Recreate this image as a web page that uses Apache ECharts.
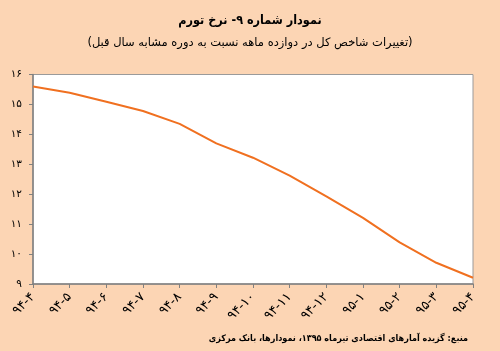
<!DOCTYPE html>
<html>
<head>
<meta charset="utf-8">
<script src="https://cdn.jsdelivr.net/npm/echarts@6/dist/echarts.min.js"></script>
<style>
  html, body { margin: 0; padding: 0; background: #FCD5B4; }
  #chart { width: 500px; height: 351px; }
</style>
</head>
<body>
<div id="chart"></div>
<script>
// دوره‌ها (ماه-سال)
const categories = ['۹۴-۴', '۹۴-۵', '۹۴-۶', '۹۴-۷', '۹۴-۸', '۹۴-۹', '۹۴-۱۰', '۹۴-۱۱', '۹۴-۱۲', '۹۵-۱', '۹۵-۲', '۹۵-۳', '۹۵-۴'];
// نرخ تورم (درصد)
const inflation = [15.6, 15.39, 15.09, 14.78, 14.35, 13.7, 13.22, 12.62, 11.93, 11.21, 10.39, 9.71, 9.21];
const yTicks = { min: 9, max: 16, interval: 1 };

// اعداد فارسی برای برچسب محور
const faDigits = (n) => String(n).replace(/\d/g, (d) => '۰۱۲۳۴۵۶۷۸۹'[d]);

const myChart = echarts.init(document.getElementById('chart'));

const options = {
    backgroundColor: '#FCD5B4',
    title: [
        {
            text: 'نمودار شماره ۹- نرخ تورم',
            left: 'center',
            top: 9,
            textStyle: { fontSize: 12.5, fontWeight: 'bold', color: '#000', fontFamily: 'DejaVu Sans Condensed' }
        },
        {
            text: '(تغییرات شاخص کل در دوازده ماهه نسبت به دوره مشابه سال قبل)',
            left: 'center',
            top: 32,
            textStyle: { fontSize: 11.5, fontWeight: 'normal', color: '#000', fontFamily: 'DejaVu Sans' }
        },
        {
            // منبع
            text: 'منبع: گزیده آمارهای اقتصادی تیرماه ۱۳۹۵، نمودارها، بانک مرکزی',
            right: 27,
            top: 329,
            textStyle: { fontSize: 9, fontWeight: 'bold', color: '#000', fontFamily: 'DejaVu Sans Condensed' }
        }
    ],
    grid: {
        left: 33,
        right: 27,
        top: 74.5,
        bottom: 67,
        show: true,
        backgroundColor: '#fff',
        borderColor: '#9a9a9a',
        borderWidth: 1
    },
    xAxis: {
        type: 'category',
        data: categories,
        boundaryGap: false,
        axisLine: { lineStyle: { color: '#808080', width: 1.5 } },
        axisTick: { show: true, length: 4, lineStyle: { color: '#808080' } },
        axisLabel: { rotate: 45, margin: 11, fontSize: 13, color: '#000', interval: 0, fontFamily: 'DejaVu Sans' },
        splitLine: { show: false }
    },
    yAxis: {
        type: 'value',
        min: yTicks.min,
        max: yTicks.max,
        interval: yTicks.interval,
        axisLine: { show: true, lineStyle: { color: '#808080', width: 1.5 } },
        axisTick: { show: true, length: 4, lineStyle: { color: '#808080' } },
        axisLabel: { fontSize: 10.5, color: '#000', margin: 11, fontFamily: 'DejaVu Sans', formatter: (v) => faDigits(v) },
        splitLine: { show: false }
    },
    series: [
        {
            type: 'line',
            data: inflation,
            symbol: 'none',
            lineStyle: { color: '#F07020', width: 2 },
            animation: false
        }
    ]
};

myChart.setOption(options);
</script>
</body>
</html>
